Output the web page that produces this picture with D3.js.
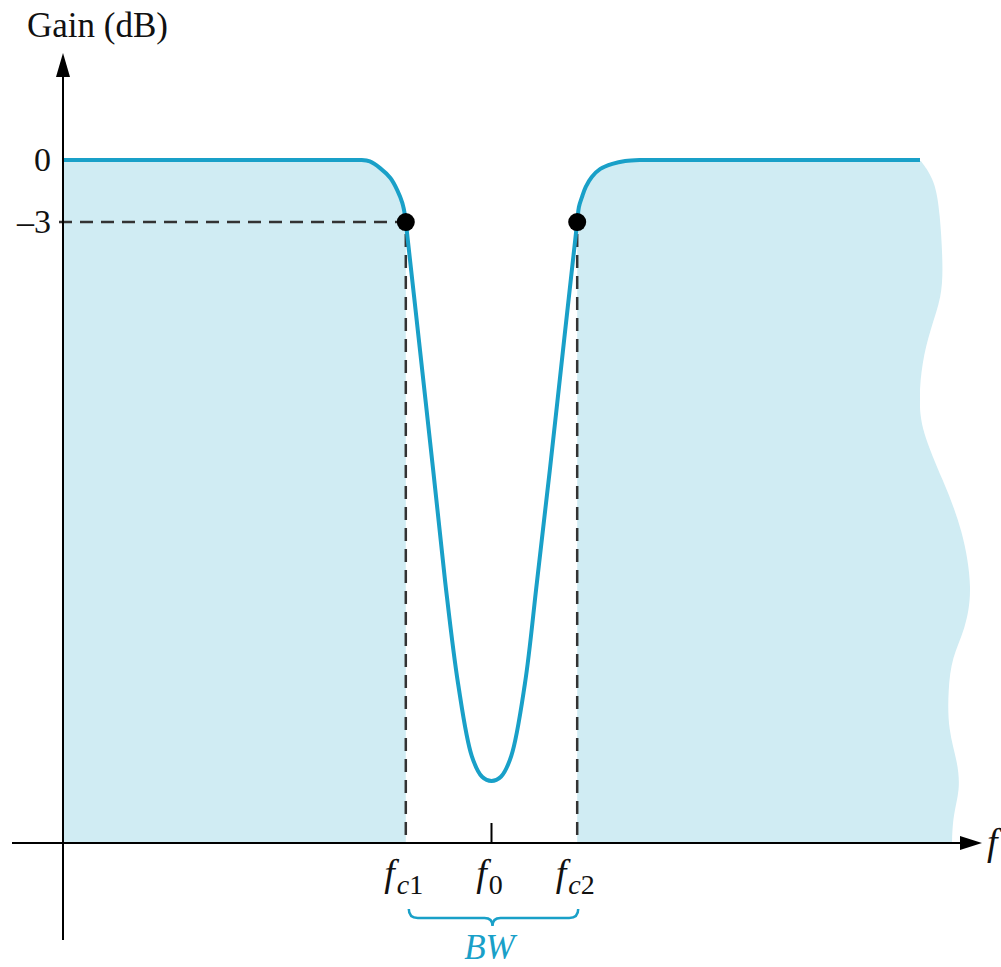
<!DOCTYPE html>
<html>
<head>
<meta charset="utf-8">
<script src="https://cdn.jsdelivr.net/npm/d3@7"></script>
<style>
  body { margin: 0; background: #fff; }
  svg text { font-family: "Liberation Serif", "Times New Roman", serif; fill: #111; }
</style>
</head>
<body>
<script>
// notch filter response (frequency in arbitrary units 0..100, gain in dB)
let freq = [0, 10, 20, 28, 32, 34, 34.7, 35.8, 37.0, 38.2, 39.0, 39.6, 39.9, 40,
            41.5, 43.2, 44.6, 46.1, 47.7, 48.9, 50, 51.1, 52.3, 53.9, 55.3, 56.8, 58.5,
            60, 60.2, 60.6, 61.0, 61.7, 62.7, 64.1, 65.6, 67.3, 68.5, 72, 80, 90, 100];
let gain = [0, 0, 0, 0, 0, 0, 0, -0.07, -0.39, -0.87, -1.45, -2.08, -2.66, -3,
            -8.6, -15, -20.4, -25.3, -28.8, -29.8, -30, -29.8, -28.8, -25.3, -20.4, -15, -8.6,
            -3, -2.27, -1.74, -1.3, -0.82, -0.43, -0.19, -0.05, 0, 0, 0, 0, 0, 0];

// torn right edge of the shaded region
let edgeF    = [100.1, 101.75, 102.33, 102.68, 102.57, 101.17, 100.23, 99.88, 100.12, 102.68,
                105.02, 106.18, 105.25, 103.73, 103.27, 103.27, 104.43, 104.67, 103.85, 103.73];
let edgeGain = [-0.05, -0.97, -2.56, -4.98, -6.62, -8.21, -9.81, -11.45, -13.05, -15.46,
                -17.88, -20.78, -22.71, -24.02, -25.61, -27.54, -29.14, -30.45, -31.65, -33];

let cutoffs = [40, 60];      // fc1, fc2
let center = 50;             // f0
let yTicks = [0, -3];
let yTickLabels = ['0', '\u20133'];
let xTickLabels = [['f', 'c1'], ['f', '0'], ['f', 'c2']];

let width = 1001, height = 967;
let blue = '#19a0c8', shade = '#d0ecf3';

let svg = d3.select('body').append('svg')
  .attr('width', width)
  .attr('height', height);

let x = d3.scaleLinear().domain([0, 100]).range([63, 920]);
let y = d3.scaleLinear().domain([-33, 0]).range([843, 160]);

let data = freq.map((f, i) => ({f: f, g: gain[i]}));
let edge = edgeF.map((f, i) => ({f: f, g: edgeGain[i]}));

// clip the shading to outside the stop band
let defs = svg.append('defs');
let clip = defs.append('clipPath').attr('id', 'outside');
clip.append('rect').attr('x', 0).attr('y', 0).attr('width', x(cutoffs[0])).attr('height', height);
clip.append('rect').attr('x', x(cutoffs[1])).attr('y', 0).attr('width', width).attr('height', height);

let curve = d3.curveCatmullRom.alpha(0.5);

let area = d3.area()
  .x(d => x(d.f))
  .y0(y(-33))
  .y1(d => y(d.g))
  .curve(curve);

svg.append('path')
  .attr('d', area(data))
  .attr('fill', shade)
  .attr('clip-path', 'url(#outside)');

let edgeArea = d3.area()
  .y(d => y(d.g))
  .x0(x(96))
  .x1(d => x(d.f))
  .curve(d3.curveBasis);

svg.append('path')
  .attr('d', edgeArea(edge))
  .attr('fill', shade);

// dashed guides at -3 dB
let dash = svg.append('g')
  .attr('stroke', '#333')
  .attr('stroke-width', 2.5)
  .attr('stroke-dasharray', '13,8');

dash.append('line')
  .attr('x1', x(0) - 4).attr('x2', x(cutoffs[0]))
  .attr('y1', y(-3)).attr('y2', y(-3));

cutoffs.forEach(c => {
  dash.append('line')
    .attr('x1', x(c)).attr('x2', x(c))
    .attr('y1', y(-3) + 12).attr('y2', y(-33));
});

// response curve
let line = d3.line()
  .x(d => x(d.f))
  .y(d => y(d.g))
  .curve(curve);

svg.append('path')
  .attr('d', line(data))
  .attr('fill', 'none')
  .attr('stroke', blue)
  .attr('stroke-width', 4);

svg.selectAll('circle.cut')
  .data(cutoffs)
  .enter().append('circle')
  .attr('class', 'cut')
  .attr('cx', d => x(d))
  .attr('cy', y(-3))
  .attr('r', 9)
  .attr('fill', '#000');

// axes
let axes = svg.append('g').attr('stroke', '#000').attr('stroke-width', 2);
axes.append('line').attr('x1', x(0)).attr('x2', x(0)).attr('y1', 940).attr('y2', 70);
axes.append('line').attr('x1', 12).attr('x2', 968).attr('y1', y(-33)).attr('y2', y(-33));
svg.append('path')
  .attr('d', `M${x(0)},53 L${x(0) - 7},77 L${x(0) + 7},77 Z`)
  .attr('fill', '#000');
svg.append('path')
  .attr('d', `M982,${y(-33)} L960,${y(-33) - 7} L960,${y(-33) + 7} Z`)
  .attr('fill', '#000');

// f0 tick
svg.append('line')
  .attr('x1', x(center)).attr('x2', x(center))
  .attr('y1', y(-33) - 20).attr('y2', y(-33))
  .attr('stroke', '#000').attr('stroke-width', 2);

// y tick labels
let yAxis = d3.axisLeft(y)
  .tickValues(yTicks)
  .tickSize(0)
  .tickPadding(12)
  .tickFormat((d, i) => yTickLabels[i]);

let yg = svg.append('g')
  .attr('transform', `translate(${x(0)},0)`)
  .call(yAxis);
yg.select('.domain').remove();
yg.selectAll('text')
  .style('font-family', '"Liberation Serif", "Times New Roman", serif')
  .style('font-size', '34px')
  .attr('fill', '#111');

// x tick labels with subscripts
let xVals = [cutoffs[0], center, cutoffs[1]];
let xl = svg.selectAll('text.xl')
  .data(xVals)
  .enter().append('text')
  .attr('class', 'xl')
  .attr('x', d => x(d) - 2)
  .attr('y', 886)
  .attr('text-anchor', 'middle')
  .style('font-size', '38px');

xl.append('tspan')
  .style('font-style', 'italic')
  .text((d, i) => xTickLabels[i][0]);
xl.append('tspan')
  .attr('dy', 8)
  .attr('dx', 2)
  .style('font-size', '28px')
  .each(function(d, i) {
    let sub = xTickLabels[i][1];
    let t = d3.select(this);
    if (sub[0] === 'c') {
      t.append('tspan').style('font-style', 'italic').text('c');
      t.append('tspan').text(sub.slice(1));
    } else {
      t.text(sub);
    }
  });

// brace for bandwidth
let bx1 = x(cutoffs[0]) + 3, bx2 = x(cutoffs[1]) + 1, bm = x(center) + 1;
let by = 918;
svg.append('path')
  .attr('d', `M${bx1},909 Q${bx1},${by} ${bx1 + 9},${by} L${bm - 8},${by} Q${bm},${by} ${bm},${by + 8}` +
             ` Q${bm},${by} ${bm + 8},${by} L${bx2 - 9},${by} Q${bx2},${by} ${bx2},909`)
  .attr('fill', 'none')
  .attr('stroke', blue)
  .attr('stroke-width', 2.5);

svg.append('text')
  .attr('x', bm - 3)
  .attr('y', 959)
  .attr('text-anchor', 'middle')
  .style('font-style', 'italic')
  .style('font-size', '35px')
  .style('fill', blue)
  .text('BW');

// axis titles
svg.append('text')
  .attr('x', 27)
  .attr('y', 37)
  .style('font-size', '35px')
  .text('Gain (dB)');

svg.append('text')
  .attr('x', 987)
  .attr('y', 855)
  .style('font-style', 'italic')
  .style('font-size', '38px')
  .text('f');
</script>
</body>
</html>
